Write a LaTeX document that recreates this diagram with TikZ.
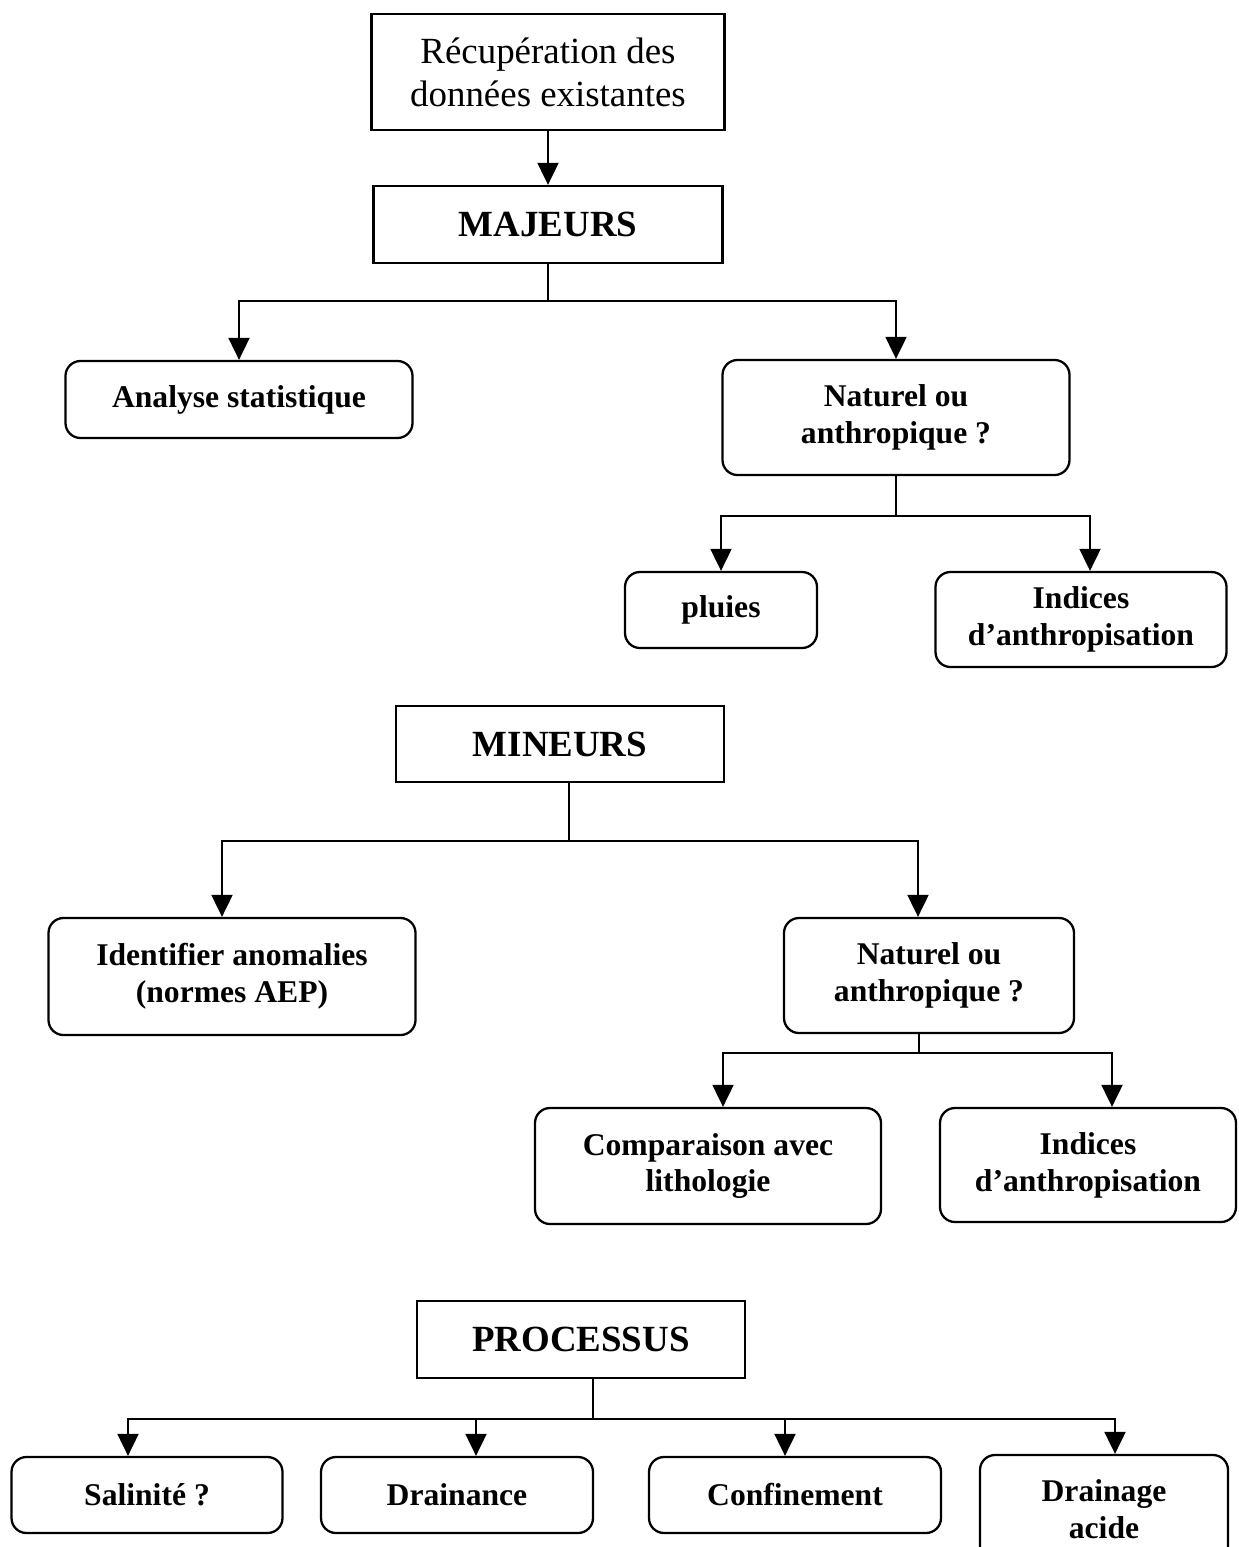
\documentclass[tikz,border=0pt]{standalone}
\usepackage{fontspec}
\setmainfont{Liberation Serif}
\usetikzlibrary{arrows.meta}

\newdimen\pxu
\pxu=0.02cm

\begin{document}
\begin{tikzpicture}[x=0.02cm, y=-0.02cm]
        \tikzstyle{every node}=[font=\fontsize{18}{21}\selectfont\bfseries, align=center, inner sep=0pt]
        \tikzstyle{box}=[draw, line width=1.3pt, rectangle]
        \tikzstyle{rbox}=[draw, line width=1.3pt, rectangle, rounded corners=0.3cm]
        \tikzstyle{head}=[font=\fontsize{21}{24}\selectfont\bfseries]
        \tikzstyle{link}=[line width=1.1pt]
        \tikzstyle{arrow}=[line width=1.1pt, -{Triangle[width=0.42cm, length=0.44cm]}]

        \useasboundingbox (0,0) rectangle (1238,1547);

        \node[box, font=\fontsize{21}{24.5}\selectfont, minimum width=353\pxu, minimum height=116\pxu] (rec) at (548,72) {Récupération des\\données existantes};
        \node[box, head, minimum width=349\pxu, minimum height=77\pxu] (maj) at (548,224.5) {MAJEURS};

        \node[rbox, minimum width=347\pxu, minimum height=77\pxu] (ana) at (239,399.5) {Analyse statistique};
        \node[rbox, minimum width=347\pxu, minimum height=115\pxu] (nat1) at (896,417.5) {Naturel ou\\anthropique ?};

        \node[rbox, minimum width=192\pxu, minimum height=76\pxu] (plu) at (721,610) {pluies};
        \node[rbox, minimum width=291\pxu, minimum height=95\pxu] (ind1) at (1081,619.5) {Indices\\d’anthropisation};

        \node[box, head, minimum width=328\pxu, minimum height=76\pxu] (min) at (560,744) {MINEURS};

        \node[rbox, minimum width=367\pxu, minimum height=117\pxu] (ide) at (232,976.5) {Identifier anomalies\\(normes AEP)};
        \node[rbox, minimum width=290\pxu, minimum height=115\pxu] (nat2) at (929,975.5) {Naturel ou\\anthropique ?};

        \node[rbox, minimum width=346\pxu, minimum height=116\pxu] (com) at (708,1166) {Comparaison avec\\lithologie};
        \node[rbox, minimum width=296\pxu, minimum height=114\pxu] (ind2) at (1088,1165) {Indices\\d’anthropisation};

        \node[box, head, minimum width=328\pxu, minimum height=77\pxu] (pro) at (581,1339.5) {PROCESSUS};

        \node[rbox, minimum width=271\pxu, minimum height=76\pxu] (sal) at (147,1495) {Salinité ?};
        \node[rbox, minimum width=272\pxu, minimum height=76\pxu] (dra) at (457,1495) {Drainance};
        \node[rbox, minimum width=292\pxu, minimum height=76\pxu] (con) at (795,1495) {Confinement};
        \node[rbox, minimum width=248\pxu, minimum height=108\pxu] (aci) at (1104,1509) {Drainage\\acide};

        \draw[arrow] (rec) -- (maj);

        \draw[link] (maj.south) -- ++(0,37) coordinate (j1);
        \draw[arrow] (j1) -| (ana.north);
        \draw[arrow] (j1) -| (nat1.north);

        \draw[link] (nat1.south) -- ++(0,40) coordinate (j2);
        \draw[arrow] (j2) -| (plu.north);
        \draw[arrow] (j2) -| ([xshift=9\pxu]ind1.north);

        \draw[link] ([xshift=9\pxu]min.south) -- ++(0,58) coordinate (j3);
        \draw[arrow] (j3) -| ([xshift=-10\pxu]ide.north);
        \draw[arrow] (j3) -| ([xshift=-11\pxu]nat2.north);

        \draw[link] ([xshift=-10\pxu]nat2.south) -- ++(0,19) coordinate (j4);
        \draw[arrow] (j4) -| ([xshift=15\pxu]com.north);
        \draw[arrow] (j4) -| ([xshift=24\pxu]ind2.north);

        \draw[link] ([xshift=12\pxu]pro.south) -- ++(0,40) coordinate (j5);
        \draw[arrow] (j5) -| ([xshift=-19\pxu]sal.north);
        \draw[arrow] (j5) -| ([xshift=19\pxu]dra.north);
        \draw[arrow] (j5) -| ([xshift=-10\pxu]con.north);
        \draw[arrow] (j5) -| ([xshift=11\pxu]aci.north);

    \end{tikzpicture}
\end{document}
